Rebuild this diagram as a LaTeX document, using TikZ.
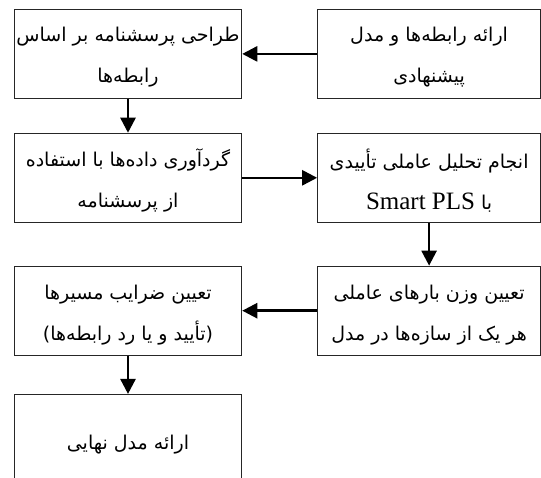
\documentclass[tikz,border=0pt]{standalone}
\usepackage{fontspec}
\usetikzlibrary{arrows.meta}
\TeXXeTstate=1
\newfontfamily\arabicfont[Script=Arabic]{DejaVu Sans}
\newfontfamily\latinserif{Liberation Serif}
\tikzset{
  box/.style={draw=black!85, line width=1.1pt, rectangle, minimum height=89pt, inner sep=0pt},
  leftbox/.style={box, minimum width=227.4pt},
  rightbox/.style={box, minimum width=222.8pt},
  txt/.style={inner sep=0pt, align=center, font=\arabicfont\fontsize{19}{41}\selectfont},
  flow/.style={line width=2.5pt, -{Triangle[length=15pt,width=15pt]}}
}
\begin{document}
\begin{tikzpicture}[x=1pt,y=1pt]
\useasboundingbox (0,0) rectangle (541,477);
\fill[white] (0,0) rectangle (541,477);
\clip (0,0) rectangle (541,477);
\node[leftbox] (b1) at (128,423.1) {};
\node[rightbox] (b2) at (429.1,423.1) {};
\node[leftbox] (b3) at (128,299.2) {};
\node[rightbox] (b4) at (429.1,299.2) {};
\node[rightbox] (b5) at (429.1,166.3) {};
\node[leftbox] (b6) at (128,166.3) {};
\node[leftbox] (b7) at (128,38) {};
\node[txt] (t1) at ([yshift=-3pt]b1.center) {\beginR طراحی پرسشنامه بر اساس\endR\\\beginR رابطه‌ها\endR};
\node[txt] (t2) at ([yshift=-3pt]b2.center) {\beginR ارائه رابطه‌ها و مدل\endR\\\beginR پیشنهادی\endR};
\node[txt] (t3) at ([yshift=-3pt]b3.center) {\beginR گردآوری داده‌ها با استفاده\endR\\\beginR از پرسشنامه\endR};
\node[txt] (t4) at ([yshift=-3pt]b4.center) {\beginR انجام تحلیل عاملی تأییدی\endR\\\beginR با {\latinserif\fontsize{25}{41}\selectfont\beginL Smart PLS\endL}\endR};
\node[txt] (t5) at ([yshift=-4pt]b5.center) {\beginR تعیین وزن بارهای عاملی\endR\\\beginR هر یک از سازه‌ها در مدل\endR};
\node[txt] (t6) at ([yshift=-4pt]b6.center) {\beginR تعیین ضرایب مسیرها\endR\\\beginR (تأیید و یا رد رابطه‌ها)\endR};
\node[txt] (t7) at ([yshift=-6pt]b7.center) {\beginR ارائه مدل نهایی\endR};
\draw[flow] (b2.west) -- (b1.east);
\draw[flow] (b1.south) -- (b3.north);
\draw[flow] (b3.east) -- (b4.west);
\draw[flow] (b4.south) -- (b5.north);
\draw[flow] (b5.west) -- (b6.east);
\draw[flow] (b6.south) -- (b7.north);
\end{tikzpicture}
\end{document}
